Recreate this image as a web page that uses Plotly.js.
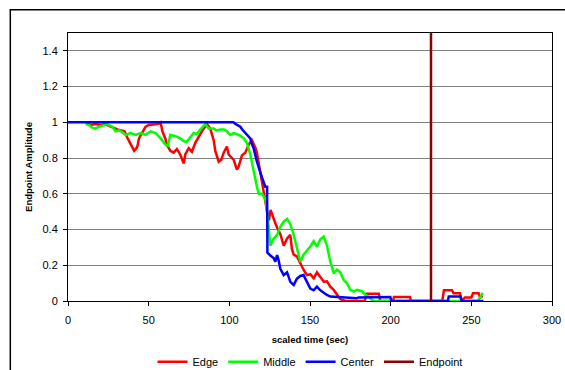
<!DOCTYPE html>
<html>
<head>
<meta charset="utf-8">
<script src="https://cdn.plot.ly/plotly-3.0.1.min.js"></script>
<style>html,body{margin:0;padding:0;background:#fff;}#chart{width:565px;height:370px;}</style>
</head>
<body>
<div id="chart"></div>
<script>
// Edge (red)
const edgeT = [11,14,17,20,23,26,28,30.5,33,35,37,38.5,40,41,42,43,44,46,48,50,53,55.5,57.4,58.5,60.3,61.3,63.4,65.5,67.5,69.6,71.7,72.7,74.8,76.8,78.9,81,83,86.1,88.2,90.3,91.3,93.4,95,96.5,98.5,99.6,100.6,102.7,104.7,105.7,107.8,109.9,112,114,116.1,117.1,119.2,121.3,123.4,124.5,125.6,127.5,129.6,131.6,133.7,135.8,137.8,138.8,139.9,141.9,144,146,148.1,150.2,152.3,154.3,156.4,158.5,160.5,162.6,164.7,166.7,168.8,172,176,184,185,192.7,193.5,201.5,202,212,212.5,232,233,238,239,243,244,246,250,251,254.5,255.5,257];
const edgeV = [1.0,0.985,0.99,0.985,0.99,0.978,0.97,0.96,0.955,0.95,0.91,0.88,0.85,0.84,0.85,0.865,0.91,0.94,0.975,0.985,0.99,0.99,1.0,0.95,0.91,0.875,0.84,0.83,0.85,0.82,0.77,0.82,0.855,0.835,0.885,0.92,0.95,0.99,0.965,0.9,0.84,0.78,0.79,0.83,0.865,0.82,0.81,0.79,0.735,0.75,0.815,0.83,0.875,0.9,0.86,0.83,0.72,0.6,0.5,0.45,0.51,0.46,0.41,0.375,0.31,0.35,0.37,0.29,0.26,0.25,0.21,0.175,0.145,0.15,0.127,0.16,0.135,0.108,0.11,0.08,0.062,0.035,0.01,0.0,0.0,0.0,0.04,0.04,0.0,0.0,0.022,0.022,0.0,0.0,0.06,0.06,0.043,0.043,0.0,0.02,0.02,0.043,0.043,0.02,0.03];

// Middle (green)
const middleT = [11,13,15,17,19,21,24.4,27.5,29.5,32,35.7,38.8,42,45,48,51.2,54.3,57.4,60.5,62,63.4,65.5,67.5,69.6,71.7,73.5,75.8,77.9,79.9,82,85.1,87.2,90.3,92,94.4,96.6,98.5,100.6,102.7,105.8,108.9,110.9,113,115,117.1,118.2,120.3,122.3,123.4,124.5,125.4,127.5,129.6,131.6,133.7,135.8,137.8,139.9,141.9,144,146,148.1,150.2,152.3,154.3,156.4,158.5,160.5,162.6,164.7,166.7,168.8,170.9,172.9,175,177,179.1,182.2,184.3,186.4,188.4,190,254,255.5,257];
const middleV = [0.99,0.985,0.97,0.965,0.975,0.98,0.99,0.975,0.95,0.955,0.93,0.94,0.93,0.94,0.93,0.95,0.94,0.91,0.875,0.87,0.93,0.925,0.92,0.91,0.895,0.89,0.92,0.94,0.935,0.96,0.99,0.965,0.965,0.955,0.96,0.96,0.95,0.93,0.94,0.93,0.912,0.884,0.82,0.725,0.64,0.6,0.6,0.57,0.5,0.4,0.31,0.35,0.37,0.415,0.445,0.46,0.43,0.37,0.29,0.22,0.26,0.28,0.305,0.335,0.305,0.345,0.36,0.31,0.22,0.155,0.175,0.16,0.118,0.1,0.062,0.053,0.062,0.055,0.034,0.025,0.006,0.0,0.0,0.02,0.045];

// Center (blue)
const centerT = [0,102.5,104,106.8,108,109.9,111,113,114,115,117.1,118.2,119.2,120.3,121.3,122.3,123.4,123.6,125.4,127.5,128.5,129.6,130.5,131.6,133.7,135.8,137.8,139.9,141.9,144,146,148.1,150.2,152.3,154.3,156.4,158.5,160.5,162.6,170,175,179,180,193,193.6,199.8,200.5,235.5,236,243.2,244,257.5];
const centerV = [1.0,1.0,0.99,0.975,0.96,0.94,0.93,0.91,0.88,0.856,0.78,0.74,0.72,0.69,0.66,0.64,0.64,0.27,0.255,0.24,0.22,0.257,0.23,0.18,0.145,0.16,0.107,0.09,0.125,0.14,0.145,0.107,0.07,0.06,0.08,0.06,0.045,0.034,0.025,0.02,0.015,0.015,0.02,0.02,0.022,0.022,0.0,0.0,0.025,0.025,0.0,0.0];

// Endpoint (dark red vertical line)
const endpointT = [225,225];
const endpointV = [0,1.5];

const seriesNames = ['Edge','Middle','Center','Endpoint'];
const xTicks = [0,50,100,150,200,250,300];
const yTicks = [0,0.2,0.4,0.6,0.8,1,1.2,1.4];

const colors = ['#FF0000','#00FF00','#0000FF','#8B0000'];
const xs = [edgeT, middleT, centerT, endpointT];
const ys = [edgeV, middleV, centerV, endpointV];

const traces = seriesNames.map((n,i)=>({
  type:'scatter', mode:'lines', name:n, x:xs[i], y:ys[i],
  line:{color:colors[i], width:2.5}, hoverinfo:'skip'
}));

const font = {family:'Arial, "Liberation Sans", sans-serif', size:11, color:'#000'};

const layout = {
  width:565, height:370,
  margin:{l:68, r:13, t:33, b:69, autoexpand:false},
  paper_bgcolor:'#fff', plot_bgcolor:'#fff',
  font:font,
  showlegend:true,
  legend:{orientation:'h', x:0.5, xanchor:'center', xref:'paper', yref:'container', y:0.022, yanchor:'middle',
          font:{family:font.family, size:11, color:'#000'}, bgcolor:'rgba(0,0,0,0)', tracegroupgap:0, itemwidth:30},
  xaxis:{range:[0,300], tickvals:xTicks, ticktext:xTicks.map(String), showgrid:false, zeroline:false,
         showline:true, linecolor:'#000', linewidth:1, mirror:true,
         ticks:'outside', ticklen:4, tickcolor:'#000', tickfont:font, ticklabelstandoff:5,
         title:{text:'scaled time (sec)', font:{family:font.family, size:9.5, color:'#000', weight:'bold'}, standoff:11}},
  yaxis:{range:[0,1.5], tickvals:yTicks, ticktext:yTicks.map(String), showgrid:true, gridcolor:'#808080', gridwidth:1,
         zeroline:false, showline:true, linecolor:'#000', linewidth:1, mirror:true,
         ticks:'outside', ticklen:4, tickcolor:'#000', tickfont:font, ticklabelstandoff:3,
         title:{text:'Endpoint Amplitude', font:{family:font.family, size:9.5, color:'#000', weight:'bold'}, standoff:8}},
  shapes:[{type:'rect', xref:'paper', yref:'paper', x0:-0.1192, x1:1.1, y0:-0.4, y1:1.087,
           line:{color:'#000', width:1.5}, fillcolor:'rgba(0,0,0,0)', layer:'below'}]
};

Plotly.newPlot('chart', traces, layout, {displayModeBar:false, staticPlot:true});
</script>
</body>
</html>
